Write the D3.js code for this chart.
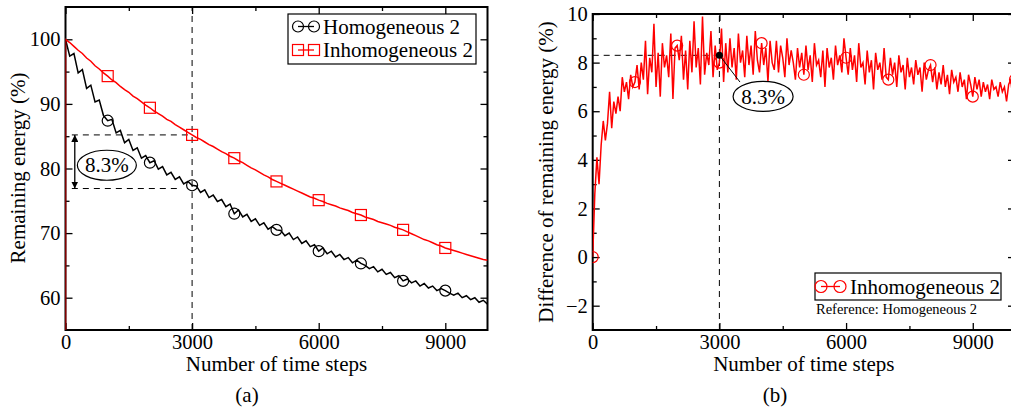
<!DOCTYPE html>
<html>
<head>
<meta charset="utf-8">
<script src="https://cdn.jsdelivr.net/npm/d3@7"></script>
<style>
  body { margin: 0; background: #fff; }
  svg { display: block; font-family: "Liberation Serif", "Times New Roman", serif; }
</style>
</head>
<body>
<div id="chart"></div>
<script>
// ---- data ----
const stepsA = d3.range(0, 10001, 100);
const homogeneous = [
  100, 97.4, 97.8, 94.8, 95.3, 92.4, 92.9, 90.3, 90.6, 88.2,
  87.4, 87.6, 85.5, 85.9, 84.0, 84.5, 82.8, 83.2, 81.6, 82.0,
  80.9, 81.2, 79.9, 80.3, 79.0, 79.4, 78.3, 78.7, 77.6, 78.0,
  77.4, 77.3, 76.3, 76.7, 75.5, 75.9, 74.9, 75.2, 74.1, 74.5,
  73.0, 73.6, 72.5, 72.9, 71.8, 72.2, 71.2, 71.6, 70.6, 71.0,
  70.5, 70.4, 69.6, 70.0, 69.0, 69.4, 68.4, 68.8, 67.9, 68.2,
  67.2, 67.7, 66.8, 67.2, 66.3, 66.7, 65.9, 66.2, 65.4, 65.8,
  65.3, 65.0, 64.5, 64.8, 64.0, 64.4, 63.6, 63.9, 63.1, 63.4,
  62.6, 62.9, 62.3, 62.6, 61.8, 62.2, 61.5, 61.8, 61.1, 61.4,
  61.1, 60.7, 60.4, 60.7, 60.0, 60.3, 59.7, 60.0, 59.3, 59.6,
  59.0
];
const inhomogeneous = [
  100, 99.5, 98.9, 98.3, 97.8, 97.1, 96.6, 95.9, 95.4, 94.8,
  94.3, 93.7, 93.3, 92.7, 92.2, 91.8, 91.2, 90.8, 90.3, 89.8,
  89.4, 88.9, 88.5, 88.1, 87.6, 87.3, 86.8, 86.4, 86.0, 85.6,
  85.2, 84.8, 84.5, 84.1, 83.7, 83.4, 83.0, 82.6, 82.3, 81.9,
  81.6, 81.2, 80.9, 80.5, 80.1, 79.8, 79.4, 79.0, 78.7, 78.3,
  78.0, 77.7, 77.4, 77.1, 76.8, 76.5, 76.2, 75.9, 75.6, 75.4,
  75.1, 74.9, 74.6, 74.4, 74.2, 73.9, 73.7, 73.5, 73.2, 73.0,
  72.8, 72.5, 72.3, 72.1, 71.8, 71.6, 71.4, 71.2, 70.9, 70.7,
  70.5, 70.2, 69.9, 69.6, 69.3, 69.0, 68.8, 68.5, 68.2, 68.0,
  67.7, 67.5, 67.3, 67.1, 66.9, 66.7, 66.5, 66.3, 66.1, 65.9,
  65.8
];
const inhomStart = 0; // red trace starts from 0 at step 0

const stepsB = d3.range(0, 10001, 50);
const difference = [
  0, 2.6, 4.1, 3.0, 4.6, 5.6, 4.8, 5.5, 6.8, 5.3, 6.4, 5.9, 6.6, 6.0, 7.4, 6.8, 7.2, 6.5, 7.5, 7.0,
  7.2, 7.9, 6.9, 8.0, 7.3, 8.9, 6.7, 8.2, 7.6, 9.6, 7.0, 8.4, 6.6, 8.8, 7.8, 8.3, 7.4, 9.2, 6.5, 8.6,
  8.7, 8.1, 9.1, 7.3, 8.5, 6.9, 8.9, 7.6, 9.7, 7.8, 8.6, 7.1, 9.9, 7.5, 8.4, 7.9, 9.3, 7.4, 8.7, 7.7,
  8.0, 9.4, 7.2, 8.8, 7.6, 9.0, 7.8, 8.6, 7.3, 9.2, 8.0, 8.5, 7.4, 9.1, 7.9, 8.7, 7.5, 9.3, 8.1, 7.6,
  8.8, 7.9, 8.6, 7.2, 8.9, 8.0, 7.7, 8.9, 7.6, 8.7, 8.2, 7.4, 9.0, 7.9, 8.5, 8.0, 7.3, 8.6, 7.8, 8.4,
  7.5, 8.7, 7.7, 8.3, 7.2, 8.8, 7.9, 8.1, 7.4, 8.5, 7.0, 8.6, 7.8, 8.2, 7.3, 8.7, 7.9, 8.3, 7.6, 9.0,
  8.2, 7.5, 8.6, 7.7, 8.3, 7.2, 8.8, 7.8, 8.0, 7.1, 8.5, 7.6, 8.1, 6.9, 8.4, 7.7, 8.0, 7.3, 8.6, 7.4,
  7.3, 8.2, 7.5, 8.0, 7.0, 8.3, 7.6, 7.9, 6.9, 8.2, 7.4, 7.8, 7.1, 8.1, 7.5, 7.8, 6.8, 8.0, 7.3, 7.7,
  7.9, 7.2, 7.8, 6.9, 7.6, 7.1, 7.9, 7.0, 7.5, 6.7, 7.7, 7.2, 7.4, 6.8, 7.6, 7.0, 7.3, 6.5, 7.5, 7.1,
  6.6, 7.4, 6.9, 7.3, 6.6, 7.2, 6.8, 7.1, 6.5, 7.3, 6.9, 7.0, 6.6, 7.2, 6.8, 7.0, 6.4, 7.1, 7.3, 6.5,
  7.3
];

const xTicks = [0, 3000, 6000, 9000];
const xMinor = [1500, 4500, 7500];
const yTicksA = [60, 70, 80, 90, 100];
const yMinorA = [65, 75, 85, 95];
const yTicksB = [-2, 0, 2, 4, 6, 8, 10];
const yMinorB = [-1, 1, 3, 5, 7, 9];
const markEvery = 1000;
const gap = 8.3;       // highlighted difference at step 3000
const gapStep = 3000;
const gapHi = 85.2, gapLo = 76.9;

const width = 1011, height = 409;
const svg = d3.select('#chart').append('svg')
  .attr('width', width).attr('height', height);

const xA = d3.scaleLinear().domain([0, 10000]).range([65.5, 487.5]);
const yA = d3.scaleLinear().domain([55, 105]).range([330, 7]);
const xB = d3.scaleLinear().domain([0, 10000]).range([592.7, 1015]);
const yB = d3.scaleLinear().domain([-3, 10]).range([330, 14]);

const defs = svg.append('defs');
defs.append('marker')
  .attr('id', 'head').attr('viewBox', '0 0 10 10')
  .attr('refX', 10).attr('refY', 5)
  .attr('markerWidth', 7).attr('markerHeight', 7)
  .attr('markerUnits', 'userSpaceOnUse')
  .attr('orient', 'auto-start-reverse')
  .append('path').attr('d', 'M0,0L10,5L0,10z').attr('fill', '#000');

function frame(name, x, y, yTicks, yMinor) {
  const [l, r] = x.range();
  const [b, t] = y.range();
  const g = svg.append('g');
  defs.append('clipPath').attr('id', 'clip-' + name)
    .append('rect').attr('x', l).attr('y', t).attr('width', r - l).attr('height', b - t);

  const styleAxis = a => {
    a.attr('font-family', null).attr('font-size', 20.5);
    a.select('.domain').remove();
    a.selectAll('.tick line').attr('stroke-width', 1.3);
  };
  g.append('g').attr('transform', `translate(0,${b})`)
    .call(d3.axisBottom(x).tickValues(xTicks).tickSizeInner(-7).tickSizeOuter(0)
      .tickPadding(4).tickFormat(d3.format('d')))
    .call(styleAxis);
  g.append('g').attr('transform', `translate(0,${b})`)
    .call(d3.axisBottom(x).tickValues(xMinor).tickSizeInner(-4).tickSizeOuter(0).tickFormat(''))
    .call(styleAxis);
  g.append('g').attr('transform', `translate(0,${t})`)
    .call(d3.axisTop(x).tickValues(xTicks).tickSizeInner(-7).tickSizeOuter(0).tickFormat(''))
    .call(styleAxis);
  g.append('g').attr('transform', `translate(0,${t})`)
    .call(d3.axisTop(x).tickValues(xMinor).tickSizeInner(-4).tickSizeOuter(0).tickFormat(''))
    .call(styleAxis);
  g.append('g').attr('transform', `translate(${l},0)`)
    .call(d3.axisLeft(y).tickValues(yTicks).tickSizeInner(-7).tickSizeOuter(0).tickPadding(5))
    .call(styleAxis);
  g.append('g').attr('transform', `translate(${l},0)`)
    .call(d3.axisLeft(y).tickValues(yMinor).tickSizeInner(-4).tickSizeOuter(0).tickFormat(''))
    .call(styleAxis);
  g.append('g').attr('transform', `translate(${r},0)`)
    .call(d3.axisRight(y).tickValues(yTicks).tickSizeInner(-7).tickSizeOuter(0).tickFormat(''))
    .call(styleAxis);
  g.append('g').attr('transform', `translate(${r},0)`)
    .call(d3.axisRight(y).tickValues(yMinor).tickSizeInner(-4).tickSizeOuter(0).tickFormat(''))
    .call(styleAxis);

  g.append('rect').attr('x', l).attr('y', t).attr('width', r - l).attr('height', b - t)
    .attr('fill', 'none').attr('stroke', '#000').attr('stroke-width', 2);

  svg.append('text').attr('x', (l + r) / 2).attr('y', 370.5)
    .attr('text-anchor', 'middle').attr('font-size', 21).text('Number of time steps');
  return svg.append('g').attr('clip-path', `url(#clip-${name})`);
}

// ---------- panel (a) ----------
const plotA = frame('a', xA, yA, yTicksA, yMinorA);
const lineA = d3.line().x(d => xA(d[0])).y(d => yA(d[1]));

plotA.append('line')
  .attr('x1', xA(gapStep)).attr('x2', xA(gapStep)).attr('y1', yA(55)).attr('y2', yA(105))
  .attr('stroke', '#000').attr('stroke-dasharray', '6,5');
plotA.append('line')
  .attr('x1', xA(150)).attr('x2', xA(gapStep)).attr('y1', yA(gapHi)).attr('y2', yA(gapHi))
  .attr('stroke', '#000').attr('stroke-dasharray', '6,5');
plotA.append('line')
  .attr('x1', xA(150)).attr('x2', xA(2640)).attr('y1', yA(gapLo)).attr('y2', yA(gapLo))
  .attr('stroke', '#000').attr('stroke-dasharray', '6,5');

const homData = stepsA.map((s, i) => [s, homogeneous[i]]);
const inhomData = [[0, inhomStart]].concat(stepsA.map((s, i) => [s, inhomogeneous[i]]));

plotA.append('path').datum(homData).attr('d', lineA)
  .attr('fill', 'none').attr('stroke', '#000').attr('stroke-width', 1.5);
plotA.append('path').datum(inhomData).attr('d', lineA)
  .attr('fill', 'none').attr('stroke', '#f00').attr('stroke-width', 1.5);

const markA = homData.filter(d => d[0] % markEvery === 0 && d[0] > 0 && d[0] < 10000);
plotA.selectAll('circle.hom').data(markA).join('circle')
  .attr('cx', d => xA(d[0])).attr('cy', d => yA(d[1])).attr('r', 5.5)
  .attr('fill', 'none').attr('stroke', '#000').attr('stroke-width', 1.2);
const markA2 = inhomData.slice(1).filter(d => d[0] % markEvery === 0 && d[0] > 0 && d[0] < 10000);
plotA.selectAll('rect.inh').data(markA2).join('rect')
  .attr('x', d => xA(d[0]) - 5.5).attr('y', d => yA(d[1]) - 5.5)
  .attr('width', 11).attr('height', 11)
  .attr('fill', 'none').attr('stroke', '#f00').attr('stroke-width', 1.2);

// gap arrow + label
svg.append('line')
  .attr('x1', xA(220)).attr('x2', xA(220)).attr('y1', yA(gapHi)).attr('y2', yA(gapLo))
  .attr('stroke', '#000').attr('stroke-width', 1.3)
  .attr('marker-start', 'url(#head)').attr('marker-end', 'url(#head)');
svg.append('ellipse').attr('cx', xA(980)).attr('cy', yA(80.5)).attr('rx', 29.5).attr('ry', 15)
  .attr('fill', '#fff').attr('stroke', '#000').attr('stroke-width', 1.2);
svg.append('text').attr('x', xA(980)).attr('y', yA(80.5)).attr('dy', '0.34em')
  .attr('text-anchor', 'middle').attr('font-size', 21).text(gap + '%');

svg.append('text').attr('transform', 'translate(25,168) rotate(-90)')
  .attr('text-anchor', 'middle').attr('font-size', 21).text('Remaining energy (%)');
svg.append('text').attr('x', 247).attr('y', 402)
  .attr('text-anchor', 'middle').attr('font-size', 21).text('(a)');

// legend (a)
const legA = svg.append('g');
legA.append('rect').attr('x', 288).attr('y', 14).attr('width', 188).attr('height', 50)
  .attr('fill', '#fff').attr('stroke', '#000').attr('stroke-width', 1.2);
[['Homogeneous 2', '#000', 'circle', 26.5], ['Inhomogeneous 2', '#f00', 'square', 50]].forEach(([label, c, shape, cy]) => {
  legA.append('line').attr('x1', 298).attr('x2', 314).attr('y1', cy).attr('y2', cy)
    .attr('stroke', c).attr('stroke-width', 1.3);
  [298, 314].forEach(cx => {
    if (shape === 'circle') {
      legA.append('circle').attr('cx', cx).attr('cy', cy).attr('r', 5.5)
        .attr('fill', 'none').attr('stroke', c).attr('stroke-width', 1.2);
    } else {
      legA.append('rect').attr('x', cx - 5.5).attr('y', cy - 5.5).attr('width', 11).attr('height', 11)
        .attr('fill', 'none').attr('stroke', c).attr('stroke-width', 1.2);
    }
  });
  legA.append('text').attr('x', 323).attr('y', cy).attr('dy', '0.34em')
    .attr('font-size', 21).text(label);
});

// ---------- panel (b) ----------
const plotB = frame('b', xB, yB, yTicksB, yMinorB);
const lineB = d3.line().x(d => xB(d[0])).y(d => yB(d[1]));
const diffData = stepsB.map((s, i) => [s, difference[i]]);

plotB.append('line')
  .attr('x1', xB(gapStep)).attr('x2', xB(gapStep)).attr('y1', yB(-3)).attr('y2', yB(10))
  .attr('stroke', '#000').attr('stroke-dasharray', '6,5');
plotB.append('line')
  .attr('x1', xB(0)).attr('x2', xB(gapStep)).attr('y1', yB(gap)).attr('y2', yB(gap))
  .attr('stroke', '#000').attr('stroke-dasharray', '6,5');

plotB.append('path').datum(diffData).attr('d', lineB)
  .attr('fill', 'none').attr('stroke', '#f00').attr('stroke-width', 1.5);
plotB.selectAll('circle.diff').data(diffData.filter(d => d[0] % markEvery === 0)).join('circle')
  .attr('cx', d => xB(d[0])).attr('cy', d => yB(d[1])).attr('r', 5.5)
  .attr('fill', 'none').attr('stroke', '#f00').attr('stroke-width', 1.2);

svg.append('line')
  .attr('x1', xB(gapStep)).attr('y1', yB(gap)).attr('x2', xB(3488)).attr('y2', yB(7.2))
  .attr('stroke', '#000').attr('stroke-width', 1);
svg.append('circle').attr('cx', xB(gapStep)).attr('cy', yB(gap)).attr('r', 3.5).attr('fill', '#000');
svg.append('ellipse').attr('cx', xB(4035)).attr('cy', yB(6.61)).attr('rx', 30).attr('ry', 15)
  .attr('fill', '#fff').attr('stroke', '#000').attr('stroke-width', 1.2);
svg.append('text').attr('x', xB(4035)).attr('y', yB(6.61)).attr('dy', '0.34em')
  .attr('text-anchor', 'middle').attr('font-size', 21).text(gap + '%');

svg.append('text').attr('transform', 'translate(553,172) rotate(-90)')
  .attr('text-anchor', 'middle').attr('font-size', 21).text('Difference of remaining energy (%)');
svg.append('text').attr('x', 775).attr('y', 402)
  .attr('text-anchor', 'middle').attr('font-size', 21).text('(b)');

// legend (b)
const legB = svg.append('g');
legB.append('rect').attr('x', 815).attr('y', 273).attr('width', 186).attr('height', 27)
  .attr('fill', '#fff').attr('stroke', '#000').attr('stroke-width', 1.2);
legB.append('line').attr('x1', 821).attr('x2', 840).attr('y1', 286.5).attr('y2', 286.5)
  .attr('stroke', '#f00').attr('stroke-width', 1.3);
[821, 840].forEach(cx => legB.append('circle').attr('cx', cx).attr('cy', 286.5).attr('r', 6)
  .attr('fill', 'none').attr('stroke', '#f00').attr('stroke-width', 1.2));
legB.append('text').attr('x', 850).attr('y', 286.5).attr('dy', '0.34em')
  .attr('font-size', 21).text('Inhomogeneous 2');
svg.append('text').attr('x', 816).attr('y', 314).attr('font-size', 14.5)
  .text('Reference: Homogeneous 2');
</script>
</body>
</html>
